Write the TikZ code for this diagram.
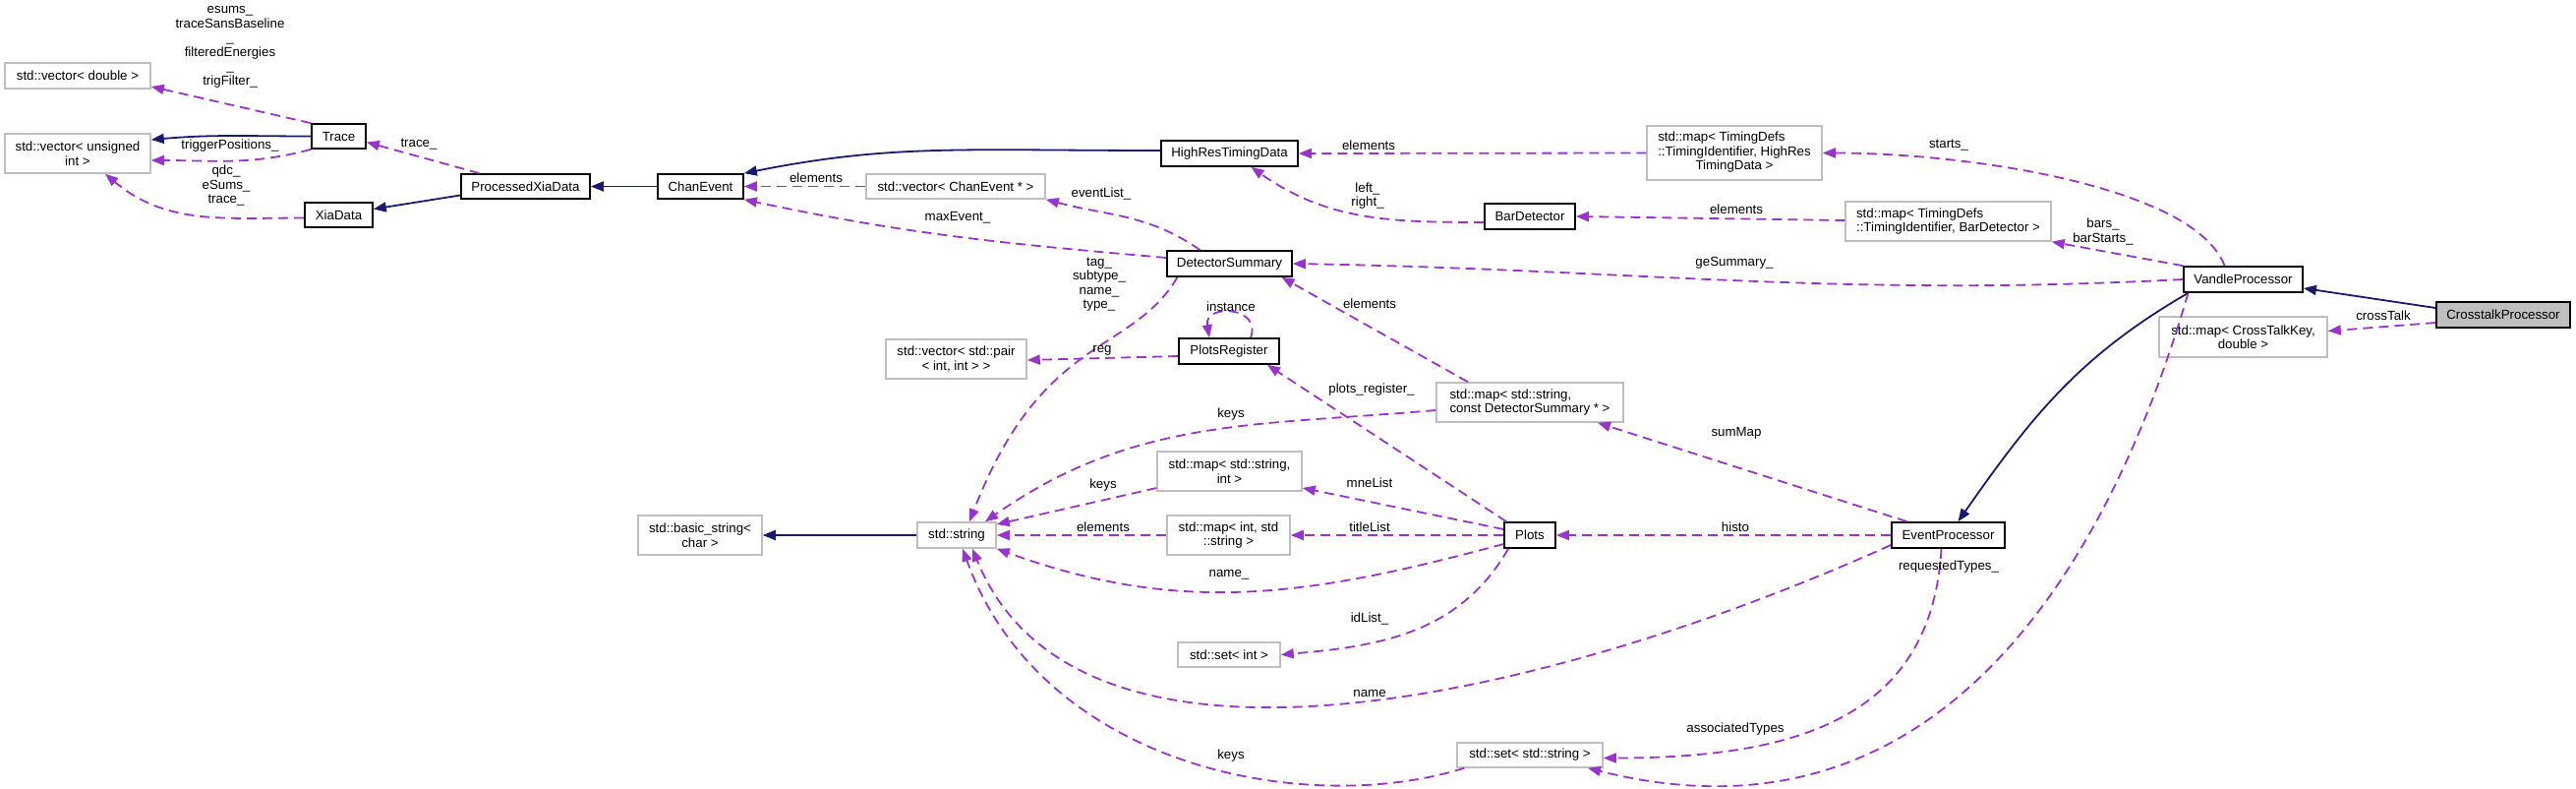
\documentclass[tikz,border=0pt]{standalone}
\usepackage{fontspec}
\setmainfont{Liberation Sans}
\usetikzlibrary{arrows.meta}
\definecolor{usecol}{HTML}{9A32CD}
\definecolor{isacol}{HTML}{191970}
\definecolor{extcol}{HTML}{BFBFBF}

\begin{document}
\begin{tikzpicture}[x=1pt,y=-1pt,
	every node/.style={font=\fontsize{13.3}{14.5}\selectfont,inner sep=0pt},
	cls/.style={draw=black,line width=1.7pt,fill=white,align=center},
	ext/.style={draw=extcol,line width=1.5pt,fill=white,align=center},
	uses/.style={draw=usecol,line width=1.8pt,dash pattern=on 10pt off 6pt,-{Triangle[length=13pt,width=10pt]}},
	isa/.style={draw=isacol,line width=1.8pt,-{Triangle[length=13pt,width=10pt]}},
	lbl/.style={align=center}]
				\useasboundingbox (0,0) rectangle (2620,802);
				% classes
				\node[ext,minimum width=148pt,minimum height=26pt] (vdouble) at (79,77) {std::vector< double >};
				\node[ext,minimum width=148pt,minimum height=40pt] (vuint) at (79,156) {std::vector< unsigned\\int >};
				\node[cls,minimum width=55pt,minimum height=25pt] (trace) at (344.5,138.5) {Trace};
				\node[cls,minimum width=69pt,minimum height=25pt] (xiadata) at (344.5,218.5) {XiaData};
				\node[cls,minimum width=131pt,minimum height=25pt] (pxd) at (534.5,189.5) {ProcessedXiaData};
				\node[cls,minimum width=87pt,minimum height=25pt] (chanevent) at (712.5,189.5) {ChanEvent};
				\node[ext,minimum width=182pt,minimum height=25pt] (vchan) at (972,189.5) {std::vector< ChanEvent * >};
				\node[cls,minimum width=139pt,minimum height=26pt] (hrtd) at (1250.5,156) {HighResTimingData};
				\node[cls,minimum width=127pt,minimum height=26pt] (detsum) at (1250.5,268) {DetectorSummary};
				\node[cls,minimum width=102pt,minimum height=26pt] (plotsreg) at (1250,357) {PlotsRegister};
				\node[ext,minimum width=143pt,minimum height=40pt] (vpair) at (972.5,365) {std::vector< std::pair\\< int, int > >};
				\node[ext,minimum width=178pt,minimum height=55pt] (maphrtd) at (1764,155.5) {\begin{tabular}{@{}l@{}}std::map< TimingDefs\\::TimingIdentifier, HighRes\\\multicolumn{1}{@{}c@{}}{TimingData >}\end{tabular}};
				\node[cls,minimum width=92pt,minimum height=26pt] (bardet) at (1556,220) {BarDetector};
				\node[ext,minimum width=209pt,minimum height=40pt,align=left] (mapbar) at (1981.5,225) {std::map< TimingDefs\\::TimingIdentifier, BarDetector >};
				\node[cls,minimum width=121pt,minimum height=26pt] (vandle) at (2281.5,284) {VandleProcessor};
				\node[cls,fill=extcol,minimum width=136pt,minimum height=26pt] (crosstalk) at (2546,320) {CrosstalkProcessor};
				\node[ext,minimum width=171pt,minimum height=41pt] (mapct) at (2281.5,342.5) {std::map< CrossTalkKey,\\double >};
				\node[ext,minimum width=190pt,minimum height=40pt,align=left] (mapds) at (1556,409) {std::map< std::string,\\const DetectorSummary * >};
				\node[ext,minimum width=126pt,minimum height=40pt] (basicstr) at (712,544) {std::basic\_string<\\char >};
				\node[ext,minimum width=80pt,minimum height=26pt] (stdstring) at (973,544) {std::string};
				\node[ext,minimum width=147pt,minimum height=40pt] (mapsi) at (1250.5,479) {std::map< std::string,\\int >};
				\node[ext,minimum width=125pt,minimum height=40pt] (mapis) at (1249.5,544) {std::map< int, std\\::string >};
				\node[cls,minimum width=52pt,minimum height=26pt] (plots) at (1556,544) {Plots};
				\node[ext,minimum width=104pt,minimum height=25pt] (setint) at (1250,665.5) {std::set< int >};
				\node[cls,minimum width=115pt,minimum height=26pt] (eventproc) at (1981.5,544) {EventProcessor};
				\node[ext,minimum width=148pt,minimum height=25pt] (setstr) at (1556,767.5) {std::set< std::string >};
				% inheritance
				\draw[isa] (trace.west) to[out=180,in=5] ([yshift=14pt]vuint.east);
				\draw[isa] ([yshift=-9pt]pxd.west) -- ([yshift=6pt]xiadata.east);
				\draw[isa] (chanevent.west) -- (pxd.east);
				\draw[isa] ([yshift=3pt]hrtd.west) .. controls +(-200,0) and +(150,-30) .. (chanevent.north east);
				\draw[isa] ([yshift=7pt]crosstalk.west) -- ([yshift=-9pt]vandle.east);
				\draw[isa] ([xshift=-56pt]vandle.south) to[out=-150,in=55] ([xshift=10pt]eventproc.north);
				\draw[isa] (stdstring.west) -- (basicstr.east);
				% members
				\draw[uses] (trace.north west) -- ([yshift=-11pt]vdouble.east);
				\draw[uses] (trace.south west) to[out=195,in=0] ([yshift=-7pt]vuint.east);
				\draw[uses] ([yshift=-3pt]xiadata.west) to[out=180,in=-40] ([xshift=28pt]vuint.south);
				\draw[uses] ([xshift=-47pt]pxd.north) -- ([yshift=-6pt]trace.east);
				\draw[uses] (vchan.west) -- (chanevent.east);
				\draw[uses] ([xshift=-30pt]detsum.north) to[out=145,in=-15] (vchan.south east);
				\draw[uses] ([yshift=6pt]detsum.west) to[out=175,in=-12] (chanevent.south east);
				\draw[uses] ([xshift=-53pt]detsum.south) .. controls +(-47,79) and +(74,-191) .. ([xshift=13pt]stdstring.north);
				\draw[uses] ([xshift=22pt]plotsreg.north) .. controls +(12,-32) and +(-6,-35) .. ([xshift=-20pt]plotsreg.north);
				\draw[uses] ([yshift=-5pt]plotsreg.west) -- ([yshift=-1pt]vpair.east);
				\draw[uses] (maphrtd.west) -- (hrtd.east);
				\draw[uses] ([yshift=-6pt]bardet.west) to[out=180,in=-35] ([xshift=22pt]hrtd.south);
				\draw[uses] ([yshift=1pt]mapbar.west) -- (bardet.east);
				\draw[uses] ([xshift=-19pt]vandle.north) .. controls +(-30,-80) and +(150,0) .. (maphrtd.east);
				\draw[uses] (vandle.north west) -- (mapbar.south east);
				\draw[uses] (vandle.west) to[out=183,in=-1] (detsum.east);
				\draw[uses] ([yshift=-8pt]crosstalk.west) -- ([yshift=6pt]mapct.east);
				\draw[uses] ([xshift=-56pt]vandle.south) .. controls +(-65,223) and +(385,97) .. ([xshift=59pt]setstr.south);
				\draw[uses] ([xshift=-7pt]eventproc.south) .. controls +(-10,170) and +(200,0) .. ([yshift=-3pt]setstr.east);
				\draw[uses] ([xshift=-42pt]eventproc.north) -- ([xshift=69pt]mapds.south);
				\draw[uses] (eventproc.west) -- (plots.east);
				\draw[uses] ([yshift=-10pt]eventproc.west) .. controls +(-324,146) and +(111,273) .. ([xshift=16pt]stdstring.south);
				\draw[uses] ([xshift=8pt]setstr.south west) .. controls +(-160,50) and +(81,223) .. ([xshift=6pt]stdstring.south);
				\draw[uses] ([xshift=-63pt]mapds.north) -- ([xshift=53pt]detsum.south);
				\draw[uses] ([yshift=-8pt]mapds.west) to[out=185,in=35] ([xshift=29pt]stdstring.north);
				\draw[uses] ([yshift=-17pt]mapsi.west) -- ([yshift=11pt]stdstring.east);
				\draw[uses] (mapis.west) -- (stdstring.east);
				\draw[uses] (plots.west) -- (mapis.east);
				\draw[uses] ([yshift=6pt]plots.west) -- ([yshift=-17pt]mapsi.east);
				\draw[uses] ([yshift=-9pt]plots.west) to[out=195,in=-20] (stdstring.south east);
				\draw[uses] ([xshift=-22pt]plots.south) to[out=-120,in=5] (setint.east);
				\draw[uses] ([xshift=-24pt]plots.north) -- ([xshift=39pt]plotsreg.south);
				% member names
				\node[lbl] (lbTraceVec) at (234,48) {esums\_\\traceSansBaseline\\\_\\filteredEnergies\\\_\\trigFilter\_};
				\node[lbl] (lbTrigPos) at (234,148) {triggerPositions\_};
				\node[lbl] (lbXiaVec) at (230,189) {qdc\_\\eSums\_\\trace\_};
				\node[lbl] (lbTrace) at (426,147) {trace\_};
				\node[lbl] (lbChanElem) at (830,181) {elements};
				\node[lbl] (lbEventList) at (1120,197) {eventList\_};
				\node[lbl] (lbMaxEvent) at (974,221) {maxEvent\_};
				\node[lbl] (lbTags) at (1118,289) {tag\_\\subtype\_\\name\_\\type\_};
				\node[lbl] (lbInstance) at (1252,312) {instance};
				\node[lbl] (lbReg) at (1121,356) {reg};
				\node[lbl] (lbHrtdElem) at (1392,148) {elements};
				\node[lbl] (lbLeftRight) at (1391,199) {left\_\\right\_};
				\node[lbl] (lbStarts) at (1982,148) {starts\_};
				\node[lbl] (lbBarElem) at (1766,213) {elements};
				\node[lbl] (lbBars) at (2139,235.5) {bars\_\\barStarts\_};
				\node[lbl] (lbGeSummary) at (1764,267) {geSummary\_};
				\node[lbl] (lbCrossTalk) at (2424,321) {crossTalk};
				\node[lbl] (lbSumElem) at (1393,309) {elements};
				\node[lbl] (lbPlotsReg) at (1395,396) {plots\_register\_};
				\node[lbl] (lbKeysDs) at (1252,421) {keys};
				\node[lbl] (lbSumMap) at (1766,440) {sumMap};
				\node[lbl] (lbKeysSi) at (1122,493) {keys};
				\node[lbl] (lbMneList) at (1393,491) {mneList};
				\node[lbl] (lbStrElem) at (1122,536) {elements};
				\node[lbl] (lbTitleList) at (1393,536) {titleList};
				\node[lbl] (lbHisto) at (1765,536) {histo};
				\node[lbl] (lbReqTypes) at (1982,576) {requestedTypes\_};
				\node[lbl] (lbNameU) at (1250,584) {name\_};
				\node[lbl] (lbIdList) at (1393,629) {idList\_};
				\node[lbl] (lbName) at (1393,705) {name};
				\node[lbl] (lbAssocTypes) at (1765,741) {associatedTypes};
				\node[lbl] (lbKeysSet) at (1252,768) {keys};
\end{tikzpicture}
\end{document}
